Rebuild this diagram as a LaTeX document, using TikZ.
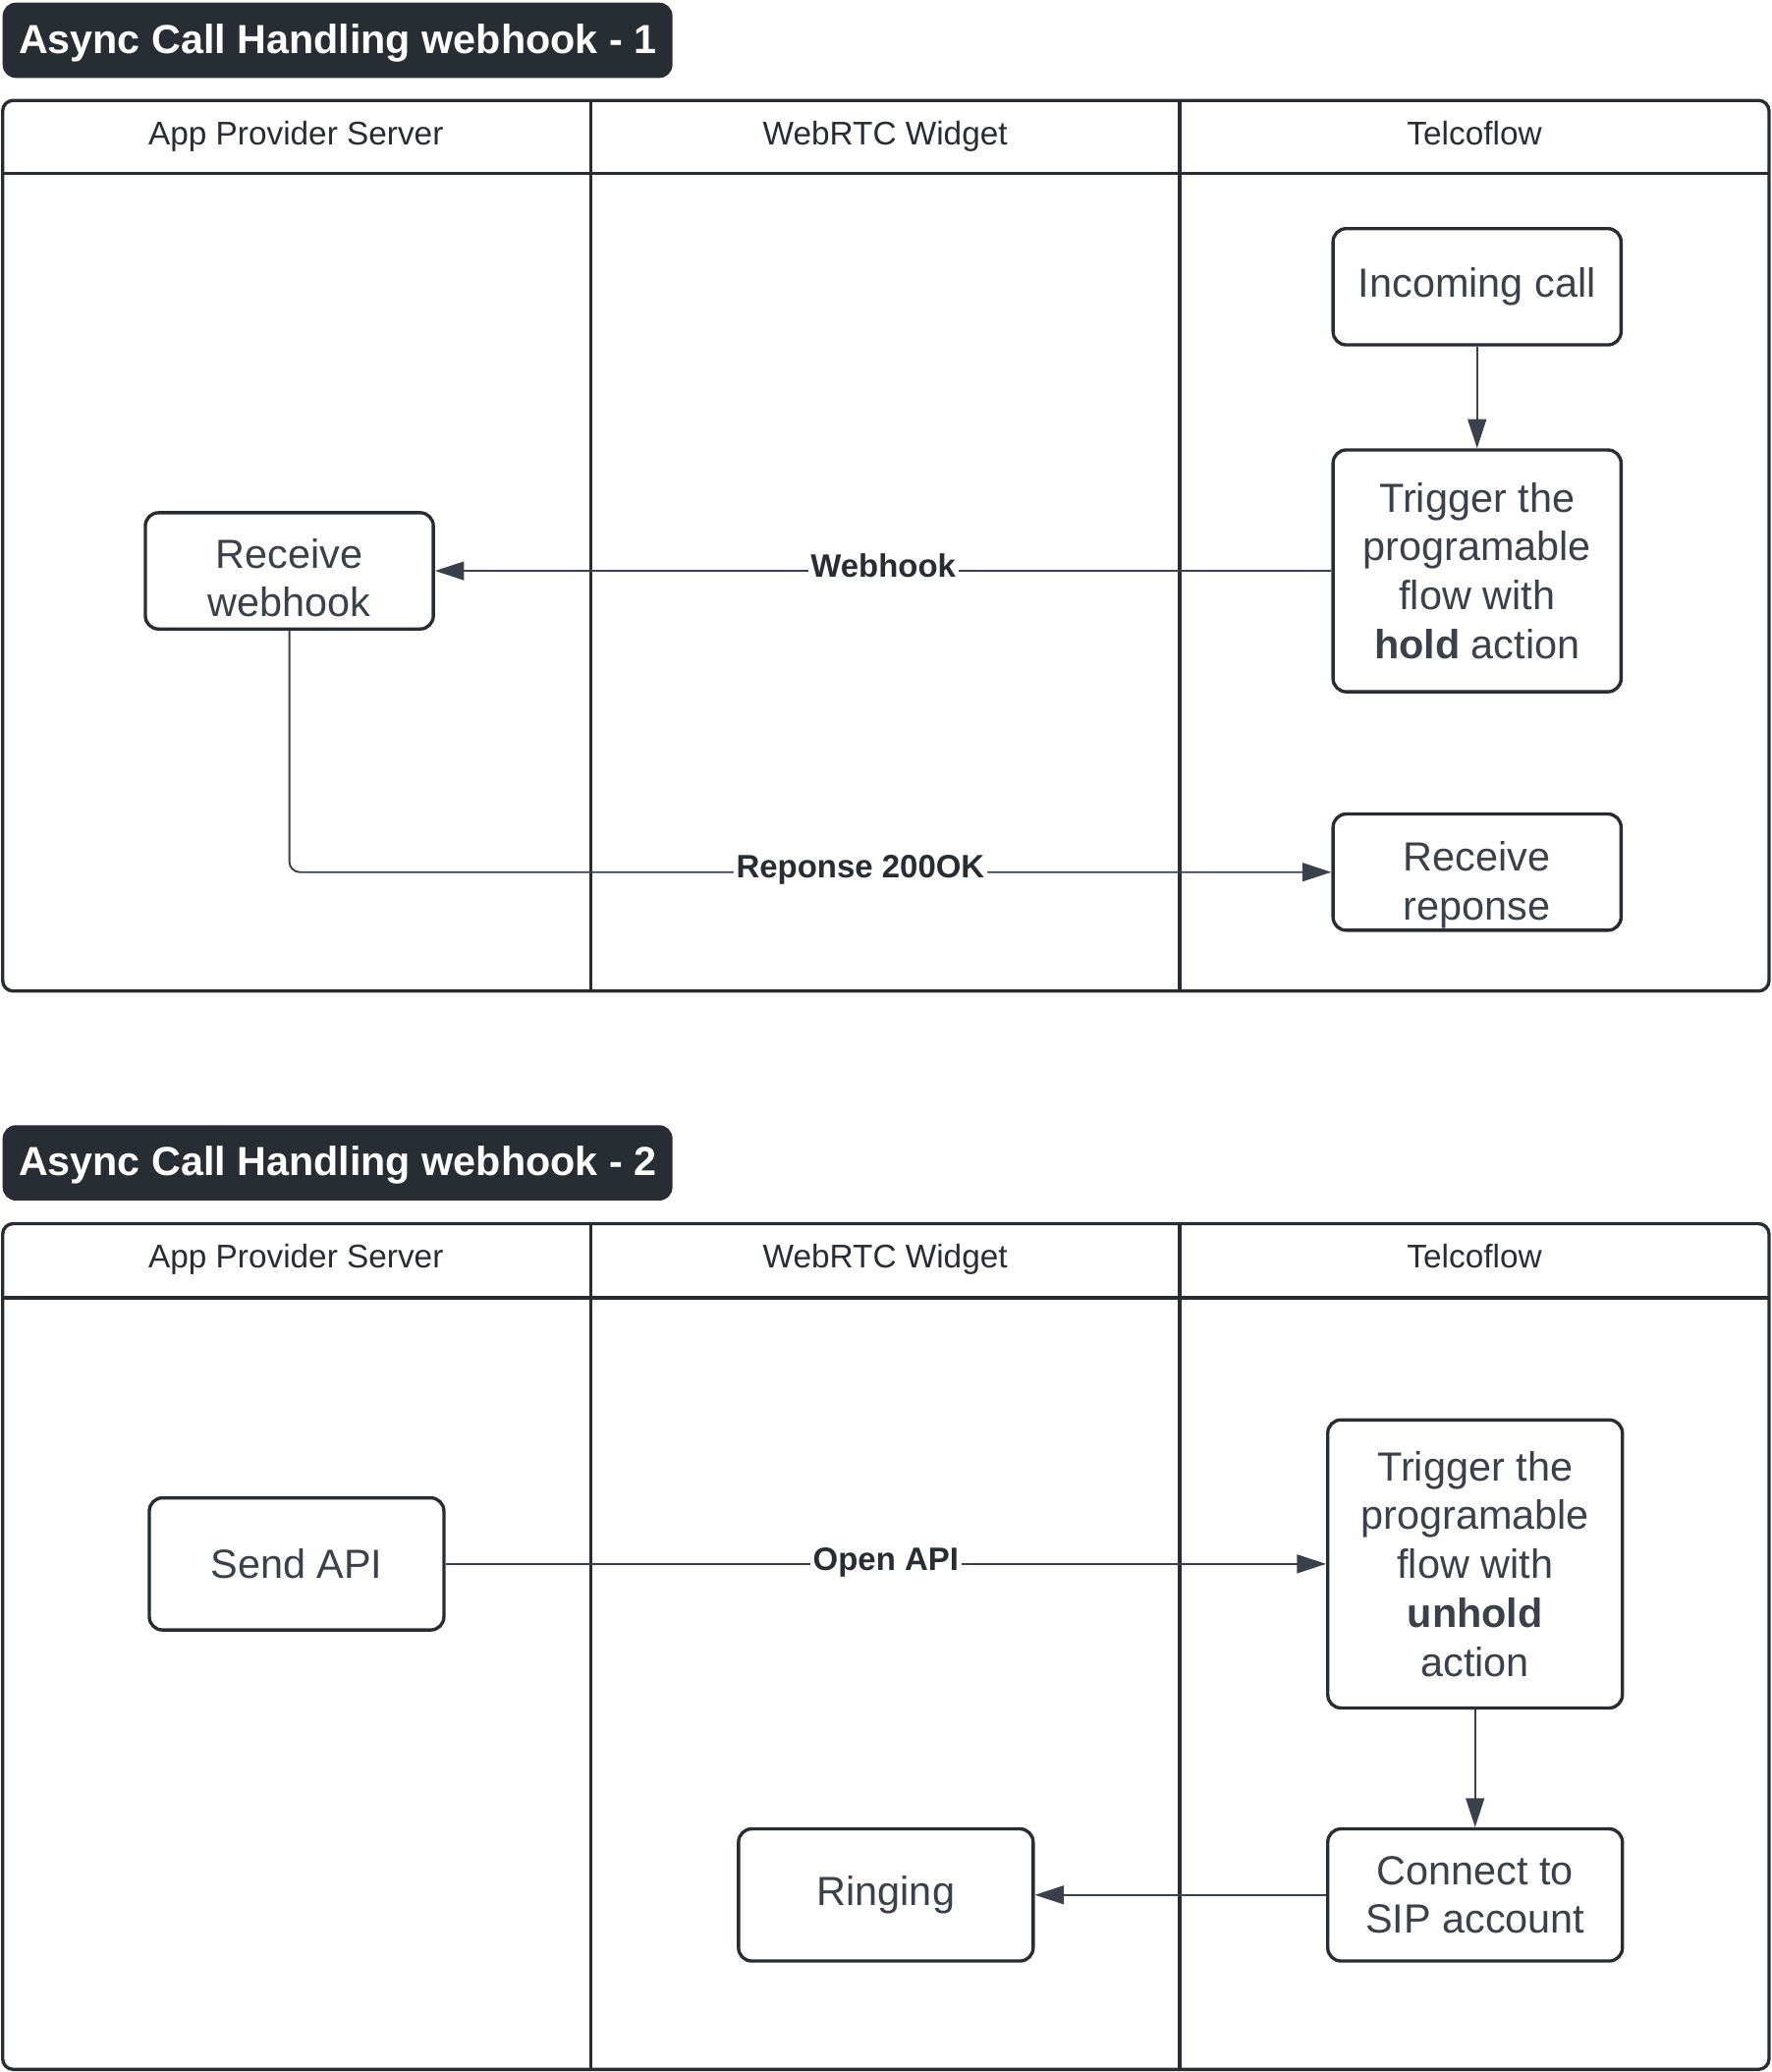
\documentclass[tikz,border=0pt]{standalone}
\usepackage{fontspec}
\setmainfont{Liberation Sans}
\usetikzlibrary{arrows.meta}
\definecolor{ink}{HTML}{282C33}
\definecolor{txt}{HTML}{3A414A}
\newcommand{\lowered}[2]{\raisebox{-#1}[\height][\depth]{\begin{tabular}{@{}c@{}}#2\end{tabular}}}
\newcommand{\lowtxt}[2]{\raisebox{-#1}[\height][\depth]{#2}}
\begin{document}
\begin{tikzpicture}[x=0.5pt,y=-0.5pt,
  box/.style={draw=ink, line width=1.25pt, rounded corners=5pt, text=txt, align=center,
    font=\fontsize{15.4}{18.5}\selectfont, inner sep=0pt},
  ttl/.style={fill=ink, rounded corners=5pt, text=white,
    font=\fontsize{15.35}{18}\selectfont\bfseries, minimum width=253.5pt, minimum height=28.5pt, inner sep=0pt},
  hdr/.style={text=ink, font=\fontsize{12.4}{15}\selectfont, text height=9pt, text depth=2.6pt},
  pool/.style={draw=ink, line width=1.25pt},
  conn/.style={draw=txt, line width=0.7pt, -{Triangle[length=11pt,width=7pt]}},
  lab/.style={fill=white, text=ink, font=\fontsize{12.25}{14}\selectfont\bfseries, inner sep=1pt,
    text height=9pt, text depth=4.4pt},
]
\useasboundingbox (0,0) rectangle (1341,1568);

% ---------- Diagram 1 ----------
\node[ttl] (t1) at (255.5,30.5) {\lowtxt{1pt}{Async Call Handling webhook - 1}};
\draw[pool, rounded corners=4pt] (2,76) rectangle (1339,750);
\draw[pool] (2,131) -- (1339,131);
\draw[pool] (447,76) -- (447,750);
\draw[pool] (893,76) -- (893,750);
\node[hdr] (h1a) at (224,103) {App Provider Server};
\node[hdr] (h1b) at (670,103) {WebRTC Widget};
\node[hdr] (h1c) at (1116,103) {Telcoflow};

\node[box, minimum width=109pt, minimum height=44pt] (inc) at (1118,217) {Incoming call};
\node[box, minimum width=109pt, minimum height=91.5pt] (trg) at (1118,432)
  {Trigger the\\programable\\flow with\\\textbf{hold} action};
\node[box, minimum width=109pt, minimum height=44pt] (rw) at (219,432) {\lowered{4.5pt}{Receive\\webhook}};
\node[box, minimum width=109pt, minimum height=44pt] (rr) at (1118,660) {\lowered{5pt}{Receive\\reponse}};

\draw[conn] (inc) -- (trg);
\draw[conn] (trg) -- node[lab, pos=0.5] {Webhook} (rw);
\draw[conn, rounded corners=4pt] (rw.south) |- node[lab, pos=0.774] {Reponse 200OK} (rr.west);

% ---------- Diagram 2 ----------
\node[ttl] (t2) at (255.5,880) {\lowtxt{1pt}{Async Call Handling webhook - 2}};
\draw[pool, rounded corners=4pt] (2,926) rectangle (1339,1566);
\draw[pool] (2,982) -- (1339,982);
\draw[pool] (447,926) -- (447,1566);
\draw[pool] (893,926) -- (893,1566);
\node[hdr] (h2a) at (224,953) {App Provider Server};
\node[hdr] (h2b) at (670,953) {WebRTC Widget};
\node[hdr] (h2c) at (1116,953) {Telcoflow};

\node[box, minimum width=111.5pt, minimum height=50pt] (api) at (224.5,1183.5) {Send API};
\node[box, minimum width=111.5pt, minimum height=109pt] (unh) at (1116.5,1183.5)
  {Trigger the\\programable\\flow with\\\textbf{unhold}\\action};
\node[box, minimum width=111.5pt, minimum height=50pt] (sip) at (1116.5,1434) {Connect to\\SIP account};
\node[box, minimum width=111.5pt, minimum height=50pt] (rng) at (670.5,1434) {Ringing};

\draw[conn] (api) -- node[lab, pos=0.5] {Open API} (unh);
\draw[conn] (unh) -- (sip);
\draw[conn] (sip) -- (rng);
\end{tikzpicture}
\end{document}
